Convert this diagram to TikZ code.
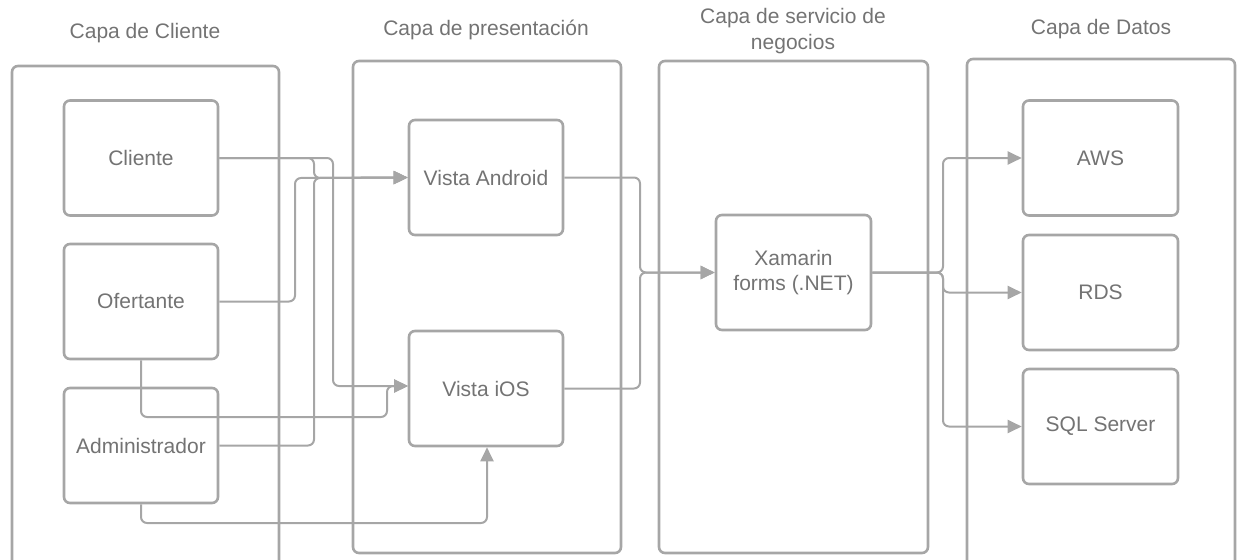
\documentclass[tikz,border=0pt]{standalone}
\usepackage{fontspec}
\setmainfont{Liberation Sans}
\usetikzlibrary{arrows.meta}
\definecolor{ln}{RGB}{166,166,166}
\definecolor{tx}{RGB}{115,115,115}
\tikzset{
  layer/.style={draw=ln, line width=2.6pt, rounded corners=6pt},
  inbox/.style={draw=ln, fill=white, line width=2.6pt, rounded corners=6pt, minimum width=154pt, minimum height=115pt, text=tx, font=\fontsize{21}{25}\selectfont, align=center, inner sep=0pt},
  ttl/.style={text=tx, font=\fontsize{21}{26}\selectfont, align=center},
  conn/.style={draw=ln, line width=2pt, rounded corners=6pt},
  arr/.style={conn, -{Triangle[length=14pt,width=13pt]}}
}
\begin{document}
\begin{tikzpicture}[x=1pt,y=-1pt]
\useasboundingbox (0,0) rectangle (1241,559);
\clip (0,0) rectangle (1241,559);
% layers
\draw[layer] (12,66) rectangle (279,570);
\draw[layer] (353,61) rectangle (621,553);
\draw[layer] (659,61) rectangle (928,553);
\draw[layer] (967,59) rectangle (1235,570);
% titles
\node[ttl] (t1) at (145,33) {Capa de Cliente};
\node[ttl] (t2) at (486,30) {Capa de presentación};
\node[ttl] (t3) at (793,31) {Capa de servicio de\\negocios};
\node[ttl] (t4) at (1101,29) {Capa de Datos};
% boxes
\node[inbox] (cli) at (141,158) {Cliente};
\node[inbox] (ofe) at (141,301.5) {Ofertante};
\node[inbox] (adm) at (141,445.5) {Administrador};
\node[inbox] (and) at (486,177.5) {Vista Android};
\node[inbox] (ios) at (486,388.5) {Vista iOS};
\node[inbox, minimum width=155pt] (xam) at (793.5,272.5) {Xamarin\\forms (.NET)};
\node[inbox, minimum width=155pt] (aws) at (1100.5,158) {AWS};
\node[inbox, minimum width=155pt] (rds) at (1100.5,292.5) {RDS};
\node[inbox, minimum width=155pt] (sql) at (1100.5,426.5) {SQL Server};
% connectors
\coordinate (iosin) at (408,386);
\draw[arr] (cli.east) -- (314,158) -- (314,178) -- (and.west);
\draw[arr] (cli.east) -- (333,158) -- (333,386) -- (iosin);
\draw[arr] (ofe.east) -- (295,301.5) -- (295,178) -- (and.west);
\draw[arr] (ofe.south) -- (141,417) -- (387,417) -- (387,386) -- (iosin);
\draw[arr] (adm.east) -- (314,445.5) -- (314,178) -- (and.west);
\draw[arr] (adm.south) -- (141,523) -- (487,523) -- (ios.south -| 487,0);
\draw[arr] (and.east) -- (640,177.5) -- (640,272.5) -- (xam.west);
\draw[arr] (ios.east) -- (640,388.5) -- (640,272.5) -- (xam.west);
\draw[arr] (xam.east) -- (943,272.5) -- (943,158) -- (aws.west);
\draw[arr] (xam.east) -- (943,272.5) -- (943,292.5) -- (rds.west);
\draw[arr] (xam.east) -- (943,272.5) -- (943,426.5) -- (sql.west);
\end{tikzpicture}
\end{document}
